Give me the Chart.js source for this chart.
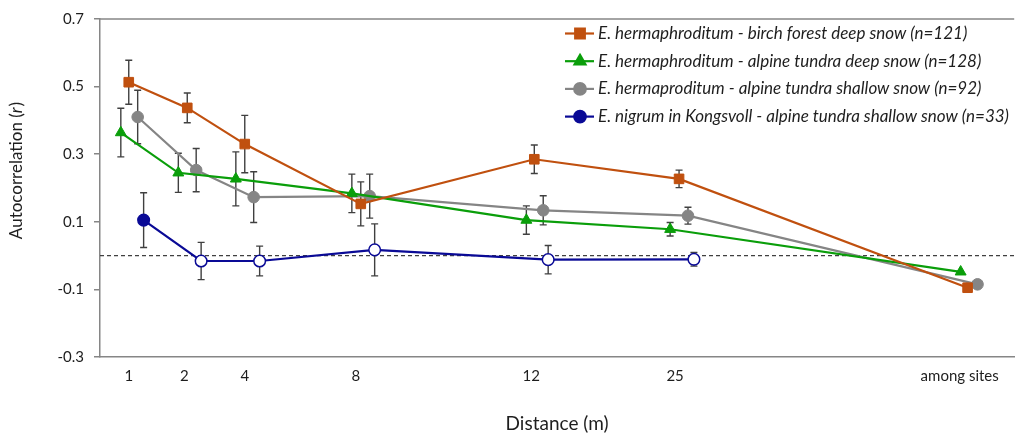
<!DOCTYPE html>
<html>
<head>
<meta charset="utf-8">
<script src="https://cdn.jsdelivr.net/npm/chart.js@4.4.1/dist/chart.umd.min.js"></script>
<style>
    html, body { margin: 0; padding: 0; background: #fff; }
    #wrap { width: 1022px; height: 435px; }
</style>
</head>
<body>
<div id="wrap"><canvas id="acChart"></canvas></div>
<script>
// distance classes and where they sit on the (irregular) x axis
const distanceLabels = ['1', '2', '4', '8', '12', '25', 'among sites'];
const distanceTickPos = [2.9, 8.5, 14.6, 25.8, 43.5, 58.0, 86.7];
const yTicks = [-0.3, -0.1, 0.1, 0.3, 0.5, 0.7];

// E. hermaphroditum - birch forest deep snow
const birchX = [2.9, 8.8, 14.6, 26.3, 43.8, 58.4, 87.5];
const birchR = [0.513, 0.437, 0.330, 0.153, 0.285, 0.227, -0.095];
const birchErr = [0.065, 0.044, 0.085, 0.065, 0.042, 0.026, 0];

// E. hermaphroditum - alpine tundra deep snow
const tundraDeepX = [2.1, 7.9, 13.7, 25.4, 43.0, 57.5, 86.8];
const tundraDeepR = [0.364, 0.245, 0.227, 0.184, 0.105, 0.078, -0.048];
const tundraDeepErr = [0.072, 0.058, 0.080, 0.057, 0.042, 0.020, 0];

// E. hermaproditum - alpine tundra shallow snow
const tundraShallowX = [3.8, 9.7, 15.5, 27.2, 44.7, 59.3, 88.5];
const tundraShallowR = [0.410, 0.253, 0.173, 0.176, 0.134, 0.118, -0.085];
const tundraShallowErr = [0.079, 0.064, 0.075, 0.065, 0.043, 0.025, 0];

// E. nigrum in Kongsvoll - alpine tundra shallow snow
const nigrumX = [4.4, 10.2, 16.1, 27.7, 45.2, 59.9];
const nigrumR = [0.105, -0.016, -0.016, 0.017, -0.012, -0.011];
const nigrumErr = [0.081, 0.055, 0.044, 0.077, 0.042, 0.020];
const nigrumSignificant = [true, false, false, false, false, false];

const FONT = 'Lato, "Open Sans", sans-serif';
const AXIS_GREY = '#868686';
const BAR_GREY = '#404040';
const TEXT = '#1e1e1e';

function toPoints(xs, ys) {
    return xs.map((x, i) => ({ x: x, y: ys[i] }));
}

function series(label, xs, ys, err, color, style, radius) {
    return {
        label: label,
        data: toPoints(xs, ys),
        errors: err,
        borderColor: color,
        backgroundColor: color,
        borderWidth: 2.2,
        pointStyle: style,
        pointRadius: radius,
        pointHoverRadius: radius,
        pointBackgroundColor: color,
        pointBorderColor: color,
        pointBorderWidth: 1,
        tension: 0
    };
}

const datasets = [
    series('E. hermaphroditum - birch forest deep snow (n=121)', birchX, birchR, birchErr, '#c0500f', 'rect', 6.8),
    series('E. hermaphroditum - alpine tundra deep snow (n=128)', tundraDeepX, tundraDeepR, tundraDeepErr, '#0a9e0a', 'triangle', 6.3),
    series('E. hermaproditum - alpine tundra shallow snow (n=92)', tundraShallowX, tundraShallowR, tundraShallowErr, '#858585', 'circle', 5.8),
    series('E. nigrum in Kongsvoll - alpine tundra shallow snow (n=33)', nigrumX, nigrumR, nigrumErr, '#0a0a96', 'circle', 5.8)
];
// open circles for the non significant values
datasets[3].pointBackgroundColor = nigrumSignificant.map(s => s ? '#0a0a96' : '#ffffff');
datasets[3].pointBorderWidth = 1.5;

// error bars, zero line, top frame, y title and legend
const extrasPlugin = {
    id: 'extras',
    beforeDatasetsDraw(chart) {
        const { ctx, chartArea, scales } = chart;
        ctx.save();
        // dashed zero line
        const y0 = scales.y.getPixelForValue(0);
        ctx.strokeStyle = '#404040';
        ctx.lineWidth = 1.3;
        ctx.setLineDash([4, 3]);
        ctx.beginPath();
        ctx.moveTo(chartArea.left, y0);
        ctx.lineTo(chartArea.right, y0);
        ctx.stroke();
        ctx.setLineDash([]);

        // error bars
        ctx.strokeStyle = BAR_GREY;
        ctx.lineWidth = 1.4;
        chart.data.datasets.forEach(ds => {
            ds.data.forEach((p, i) => {
                const e = ds.errors[i];
                if (!e) return;
                const x = scales.x.getPixelForValue(p.x);
                const yTop = scales.y.getPixelForValue(p.y + e);
                const yBot = scales.y.getPixelForValue(p.y - e);
                ctx.beginPath();
                ctx.moveTo(x, yTop); ctx.lineTo(x, yBot);
                ctx.moveTo(x - 3.5, yTop); ctx.lineTo(x + 3.5, yTop);
                ctx.moveTo(x - 3.5, yBot); ctx.lineTo(x + 3.5, yBot);
                ctx.stroke();
            });
        });
        ctx.restore();
    },
    afterDraw(chart) {
        const { ctx, chartArea } = chart;
        ctx.save();
        // top frame line
        ctx.strokeStyle = AXIS_GREY;
        ctx.lineWidth = 1.5;
        ctx.beginPath();
        ctx.moveTo(chartArea.left, chartArea.top);
        ctx.lineTo(chartArea.right, chartArea.top);
        ctx.stroke();

        // y axis title with italic r
        ctx.translate(17, 171);
        ctx.rotate(-Math.PI / 2);
        ctx.fillStyle = TEXT;
        ctx.textBaseline = 'middle';
        const plain = 'Autocorrelation (';
        ctx.font = '17px ' + FONT;
        const w1 = ctx.measureText(plain).width;
        ctx.font = 'italic 17px ' + FONT;
        const w2 = ctx.measureText('r').width;
        ctx.font = '17px ' + FONT;
        const w3 = ctx.measureText(')').width;
        const x = -(w1 + w2 + w3) / 2;
        ctx.fillText(plain, x, 0);
        ctx.font = 'italic 17px ' + FONT;
        ctx.fillText('r', x + w1, 0);
        ctx.font = '17px ' + FONT;
        ctx.fillText(')', x + w1 + w2 + 1, 0);
        ctx.restore();

        // legend inside the plot, line + marker
        ctx.save();
        ctx.font = 'italic 17px ' + FONT;
        ctx.textBaseline = 'middle';
        chart.data.datasets.forEach((ds, i) => {
            const y = 33.5 + i * 27.7;
            ctx.strokeStyle = ds.borderColor;
            ctx.lineWidth = 2.2;
            ctx.beginPath();
            ctx.moveTo(565, y);
            ctx.lineTo(594, y);
            ctx.stroke();
            ctx.fillStyle = ds.borderColor;
            Chart.helpers.drawPoint(ctx, { pointStyle: ds.pointStyle, radius: ds.pointRadius, borderWidth: 1 }, 580, y);
            ctx.fillStyle = TEXT;
            ctx.fillText(ds.label, 598, y);
        });
        ctx.restore();
    }
};

new Chart(document.getElementById('acChart'), {
    type: 'line',
    data: { datasets: datasets },
    plugins: [extrasPlugin],
    options: {
        responsive: true,
        maintainAspectRatio: false,
        animation: false,
        layout: { padding: { left: 0, right: 0, top: 19, bottom: 0 } },
        plugins: {
            legend: { display: false },
            tooltip: { enabled: false }
        },
        scales: {
            x: {
                type: 'linear',
                min: 0,
                max: 92.2,
                afterBuildTicks: axis => {
                    axis.ticks = distanceTickPos.map(v => ({ value: v }));
                },
                afterFit: axis => { axis.height = 78; },
                grid: { display: false, drawTicks: false },
                border: { display: true, color: AXIS_GREY, width: 1.5 },
                ticks: {
                    autoSkip: false,
                    maxRotation: 0,
                    padding: 10,
                    color: TEXT,
                    font: { family: FONT, size: 15 },
                    callback: (value, index) => distanceLabels[index]
                },
                title: {
                    display: true,
                    text: 'Distance (m)',
                    color: TEXT,
                    font: { family: FONT, size: 19 },
                    padding: { top: 0, bottom: 0 }
                }
            },
            y: {
                min: -0.3,
                max: 0.7,
                afterBuildTicks: axis => {
                    axis.ticks = yTicks.map(v => ({ value: v }));
                },
                afterFit: axis => { axis.width = 100; },
                grid: { drawOnChartArea: false, drawTicks: true, tickLength: 6, color: AXIS_GREY, lineWidth: 1.5 },
                border: { display: true, color: AXIS_GREY, width: 1.5 },
                ticks: {
                    padding: 10,
                    color: TEXT,
                    font: { family: FONT, size: 15 },
                    callback: value => value.toFixed(1)
                }
            }
        }
    }
});
</script>
</body>
</html>
